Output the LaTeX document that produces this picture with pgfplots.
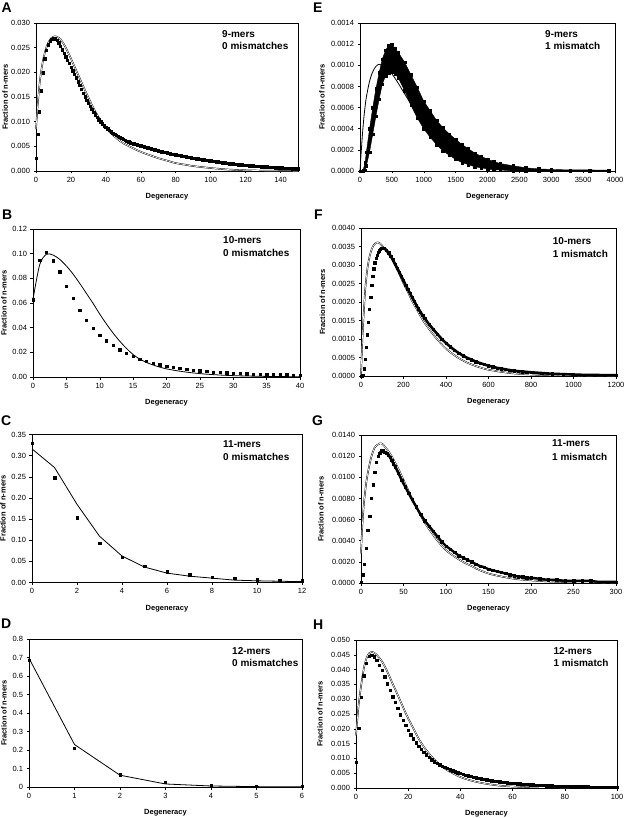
\documentclass[border=0pt]{standalone}
\usepackage{fontspec}
\setmainfont{Liberation Sans}
\usepackage{pgfplots}
\pgfplotsset{compat=1.18}
\usepackage{pgfplotstable}
\usepgfplotslibrary{fillbetween}

\pgfplotsset{
  panel/.style={
    scale only axis, anchor=south west, height=148pt,
    axis line style={line width=0.6pt},
    tick align=outside, tick pos=left, major tick length=2.5pt,
    tick style={black,line width=0.5pt},
    ticklabel style={font=\fontsize{7.5}{9}\selectfont},
    scaled ticks=false,
    /pgf/number format/assume math mode=true,
    /pgf/number format/1000 sep={},
    xlabel={Degeneracy}, ylabel={Fraction of n-mers},
    xlabel style={at={(axis description cs:0.5,0)}, anchor=north, yshift=-22.5pt, font=\bfseries\fontsize{7.5}{9}\selectfont, inner sep=0pt},
    ylabel style={anchor=center, font=\bfseries\fontsize{7.5}{9}\selectfont, inner sep=0pt},
    clip=false,
  },
  dots/.style={only marks, mark=square*, mark size=1.2pt, black},
  fitd/.style={black, line width=0.45pt, double=white, double distance=0.65pt, no marks},
  fits/.style={black, line width=0.8pt, no marks},
}

\pgfplotstableread{
x lo hi
0 0 0
50 0 0.00001
80 0.00001 0.00008
100 0.00005 0.00018
150 0.00018 0.00040
200 0.00035 0.00060
250 0.00052 0.00078
300 0.00068 0.00093
350 0.00082 0.00106
400 0.00090 0.00114
450 0.00093 0.00119
500 0.00094 0.00120
550 0.00092 0.00116
600 0.00088 0.00112
700 0.00076 0.00103
800 0.00062 0.00091
900 0.00050 0.00079
1000 0.00040 0.00066
1100 0.00032 0.00057
1200 0.00025 0.00048
1300 0.00019 0.00041
1400 0.00015 0.00035
1500 0.00011 0.00030
1600 0.00008 0.00025
1700 0.00006 0.00021
1800 0.00004 0.00017
1900 0.00003 0.00014
2000 0.00002 0.00011
2100 0.00001 0.00009
2200 0.00001 0.00007
2400 0 0.00005
2600 0 0.00003
2800 0 0.00002
3000 0 0.000015
3300 0 0.00001
3600 0 0.00001
3900 0 0.000008
}\Eband

\pgfplotstableread{
x y
0 0
5 0.00001
10 0.00003
15 0.00020
20 0.00045
25 0.00078
30 0.00112
35 0.00146
40 0.00180
45 0.00213
50 0.00245
55 0.00270
60 0.00290
65 0.00306
70 0.00318
75 0.00327
80 0.00334
85 0.00339
90 0.00343
95 0.00345
100 0.00346
110 0.00345
120 0.00340
130 0.00333
140 0.00324
150 0.00314
160 0.00303
170 0.00292
180 0.00281
190 0.00269
200 0.00258
210 0.00246
220 0.00235
230 0.00224
240 0.00213
250 0.00203
260 0.00192
270 0.00182
280 0.00173
290 0.00164
300 0.00156
320 0.00140
340 0.00126
360 0.00113
380 0.00100
400 0.00089
420 0.00079
440 0.00070
460 0.00062
480 0.00055
500 0.00049
520 0.00044
540 0.00039
560 0.00035
580 0.00031
600 0.00028
620 0.00025
640 0.00022
660 0.00020
680 0.00018
700 0.00016
720 0.00014
740 0.00013
760 0.00012
780 0.00011
800 0.00010
850 0.00008
900 0.00006
950 0.00005
1000 0.00004
1050 0.00003
1100 0.00003
1150 0.00002
1200 0.00002
}\Fdots

\pgfplotstableread{
x y
0 0.0001
2 0.0008
4 0.0018
6 0.0033
8 0.0050
10 0.0063
12 0.0080
14 0.0093
16 0.0105
18 0.0114
20 0.0120
22 0.0123
24 0.0125
26 0.0125
28 0.0124
30 0.0123
32 0.0121
34 0.0119
36 0.0116
38 0.0113
40 0.0110
44 0.0104
48 0.0097
52 0.0091
56 0.0085
60 0.0079
65 0.0072
70 0.0065
75 0.0059
80 0.0054
85 0.0049
90 0.0044
95 0.0039
100 0.0035
105 0.0032
110 0.0029
115 0.0026
120 0.0024
125 0.0022
130 0.0020
135 0.0018
140 0.0016
145 0.0015
150 0.0013
155 0.0012
160 0.0011
165 0.0010
170 0.0009
175 0.0008
180 0.0007
185 0.0006
190 0.0006
195 0.0005
200 0.0005
210 0.0004
220 0.0003
230 0.0003
240 0.0002
250 0.0002
260 0.0002
270 0.0002
280 0.0001
290 0.0001
300 0.0001
}\Gdots

\begin{document}
\begin{tikzpicture}

% ---------------- A ----------------
\begin{axis}[panel, ylabel style={at={(axis description cs:-0.118,0.5)}}, at={(36pt,-171pt)}, width=262pt,
  xmin=0, xmax=150, ymin=0, ymax=0.03,
  xtick={0,20,...,140},
  ytick={0,0.005,0.01,0.015,0.02,0.025,0.03},
  yticklabel style={/pgf/number format/.cd, fixed, fixed zerofill, precision=3}]
\addplot[dots] coordinates {(0,0.0026)(1,0.0074)(2,0.0120)(3,0.0163)(4,0.0199)(5,0.0228)(6,0.0245)(7,0.0256)(8,0.0263)(9,0.0267)(10,0.0269)(11,0.0268)(12,0.0265)(13,0.0260)(14,0.0253)(15,0.0246)(16,0.0239)(17,0.0232)(18,0.0225)(19,0.0218)(20,0.0211)(21,0.0203)(22,0.0196)(23,0.0189)(24,0.0181)(25,0.0174)(26,0.0166)(27,0.0158)(28,0.0151)(29,0.0144)(30,0.0137)(31,0.0131)(32,0.0125)(33,0.0119)(34,0.0114)(35,0.0109)(36,0.0104)(37,0.0100)(38,0.0096)(39,0.0092)(40,0.0089)(41,0.0086)(42,0.0083)(43,0.0080)(44,0.0077)(45,0.0074)(46,0.0072)(47,0.0070)(48,0.0068)(49,0.0066)(50,0.0064)(51,0.0062)(52,0.0060)(53,0.0059)(54,0.0057)(55,0.0056)(56,0.0055)(57,0.0054)(58,0.0053)(59,0.0052)(60,0.0051)(61,0.0050)(62,0.0049)(63,0.0048)(64,0.0047)(65,0.0046)(66,0.0045)(67,0.0044)(68,0.0043)(69,0.0042)(70,0.0041)(71,0.0040)(72,0.0039)(73,0.0038)(74,0.0038)(75,0.0037)(76,0.0036)(77,0.0035)(78,0.0034)(79,0.0034)(80,0.0033)(81,0.0032)(82,0.0032)(83,0.0031)(84,0.0030)(85,0.0030)(86,0.0029)(87,0.0028)(88,0.0028)(89,0.0027)(90,0.0026)(91,0.0026)(92,0.0025)(93,0.0025)(94,0.0024)(95,0.0023)(96,0.0023)(97,0.0022)(98,0.0022)(99,0.0021)(100,0.0021)(101,0.0020)(102,0.0020)(103,0.0019)(104,0.0019)(105,0.0018)(106,0.0018)(107,0.0017)(108,0.0017)(109,0.0016)(110,0.0016)(111,0.0015)(112,0.0015)(113,0.0015)(114,0.0014)(115,0.0014)(116,0.0013)(117,0.0013)(118,0.0013)(119,0.0012)(120,0.0012)(121,0.0012)(122,0.0011)(123,0.0011)(124,0.0011)(125,0.0010)(126,0.0010)(127,0.0010)(128,0.0010)(129,0.0009)(130,0.0009)(131,0.0009)(132,0.0009)(133,0.0008)(134,0.0008)(135,0.0008)(136,0.0008)(137,0.0007)(138,0.0007)(139,0.0007)(140,0.0007)(141,0.0007)(142,0.0006)(143,0.0006)(144,0.0006)(145,0.0006)(146,0.0006)(147,0.0005)(148,0.0005)(149,0.0005)(150,0.0005)};
\addplot[fitd, smooth] coordinates {(0,0.0085)(1,0.0135)(2,0.0175)(3,0.0203)(4,0.0224)(5,0.0239)(6,0.0251)(7,0.0260)(8,0.0266)(9,0.0270)(10,0.0272)(11,0.0273)(12,0.0272)(13,0.0270)(14,0.0267)(16,0.0257)(18,0.0243)(20,0.0228)(22,0.0212)(24,0.0196)(26,0.0180)(28,0.0164)(30,0.0149)(32,0.0134)(34,0.0120)(36,0.0108)(38,0.0097)(40,0.0088)(42,0.0080)(44,0.0073)(46,0.0067)(48,0.0061)(50,0.0056)(54,0.0049)(58,0.0042)(62,0.0036)(66,0.0031)(70,0.0026)(75,0.0021)(80,0.0016)(85,0.0013)(90,0.0010)(100,0.0006)(110,0.0003)(120,0.00015)(130,0.00007)(140,0.00003)(150,0.00001)};
\end{axis}

% ---------------- B ----------------
\begin{axis}[panel, ylabel style={at={(axis description cs:-0.1086,0.5)}}, at={(33pt,-377pt)}, width=267pt,
  xmin=0, xmax=40, ymin=0, ymax=0.12,
  xtick={0,5,...,40},
  ytick={0,0.02,0.04,0.06,0.08,0.1,0.12},
  yticklabel style={/pgf/number format/.cd, fixed, fixed zerofill, precision=2}]
\addplot[dots] coordinates {(0,0.0627)(1,0.0946)(2,0.1011)(3,0.0943)(4,0.0854)(5,0.0738)(6,0.0638)(7,0.0543)(8,0.0462)(9,0.0397)(10,0.0338)(11,0.0295)(12,0.0257)(13,0.0222)(14,0.0192)(15,0.0168)(16,0.0146)(17,0.0127)(18,0.0111)(19,0.0100)(20,0.0089)(21,0.0078)(22,0.0070)(23,0.0062)(24,0.0057)(25,0.0051)(26,0.0046)(27,0.0041)(28,0.0038)(29,0.0035)(30,0.0032)(31,0.0030)(32,0.0027)(33,0.0024)(34,0.0024)(35,0.0022)(36,0.0021)(37,0.0019)(38,0.0018)(39,0.0016)(40,0.0016)};
\addplot[fits, smooth] coordinates {(0,0.063)(1,0.091)(2,0.0995)(3,0.0989)(4,0.0954)(5,0.0900)(6,0.0835)(7,0.0759)(8,0.0678)(9,0.0597)(10,0.0510)(11,0.0430)(12,0.0356)(13,0.0290)(14,0.0232)(15,0.0182)(16,0.0145)(17,0.0118)(18,0.0097)(19,0.0080)(20,0.0066)(22,0.0047)(24,0.0033)(26,0.0023)(28,0.0016)(30,0.0011)(33,0.0007)(36,0.0004)(40,0.0002)};
\end{axis}

% ---------------- C ----------------
\begin{axis}[panel, ylabel style={at={(axis description cs:-0.1074,0.5)}}, at={(32pt,-582.5pt)}, width=270pt,
  xmin=0, xmax=12, ymin=0, ymax=0.35,
  xtick={0,2,...,12},
  ytick={0,0.05,0.1,0.15,0.2,0.25,0.3,0.35},
  yticklabel style={/pgf/number format/.cd, fixed, fixed zerofill, precision=2}]
\addplot[dots] coordinates {(0,0.329)(1,0.2476)(2,0.153)(3,0.0929)(4,0.0595)(5,0.0381)(6,0.0254)(7,0.0183)(8,0.0127)(9,0.0095)(10,0.0071)(11,0.0056)(12,0.0040)};
\addplot[fits] coordinates {(0,0.316)(1,0.272)(2,0.185)(3,0.1095)(4,0.0627)(5,0.0365)(6,0.0222)(7,0.0150)(8,0.0103)(9,0.0056)(10,0.0040)(11,0.0030)(12,0.0020)};
\end{axis}

% ---------------- D ----------------
\begin{axis}[panel, ylabel style={at={(axis description cs:-0.0916,0.5)}}, at={(29pt,-787pt)}, width=273pt,
  xmin=0, xmax=6, ymin=0, ymax=0.8,
  xtick={0,1,...,6},
  ytick={0,0.1,0.2,0.3,0.4,0.5,0.6,0.7,0.8},
  yticklabel style={/pgf/number format/.cd, fixed, precision=1}]
\addplot[dots] coordinates {(0,0.685)(1,0.211)(2,0.0656)(3,0.0255)(4,0.011)(5,0.0055)(6,0.0036)};
\addplot[fits] coordinates {(0,0.696)(1,0.2296)(2,0.0638)(3,0.0164)(4,0.0055)(5,0.002)(6,0.001)};
\end{axis}

% ---------------- E ----------------
\begin{axis}[panel, ylabel style={at={(axis description cs:-0.149,0.5)}}, at={(360pt,-171pt)}, width=255pt,
  xmin=0, xmax=4000, ymin=0, ymax=0.0014,
  xtick={0,500,...,4000},
  ytick={0,0.0002,0.0004,0.0006,0.0008,0.001,0.0012,0.0014},
  yticklabel style={/pgf/number format/.cd, fixed, fixed zerofill, precision=4}]
\addplot[name path=Eup, black, line width=0.4pt, mark=square*, mark size=1.2pt] table[x=x, y=hi] {\Eband};
\addplot[name path=Elo, black, line width=0.4pt, mark=square*, mark size=1.2pt] table[x=x, y=lo] {\Eband};
\addplot[black] fill between[of=Eup and Elo];
\addplot[fits, smooth] coordinates {(0,0)(10,0.0001)(20,0.00019)(40,0.00036)(60,0.0005)(80,0.00061)(100,0.0007)(150,0.00085)(200,0.00094)(250,0.00099)(300,0.00101)(350,0.00100)(400,0.00098)(450,0.00095)(500,0.00092)(600,0.00083)(700,0.00073)(800,0.00063)(900,0.00054)(1000,0.00046)(1100,0.00039)(1200,0.00032)(1300,0.00026)(1400,0.00021)(1500,0.00017)(1600,0.00013)(1700,0.0001)(1800,0.00008)(1900,0.00006)(2000,0.00005)(2200,0.00003)(2500,0.00001)(3000,0.000003)(3900,0)};
\end{axis}

% ---------------- F ----------------
\begin{axis}[panel, ylabel style={at={(axis description cs:-0.151,0.5)}}, at={(361pt,-376pt)}, width=255pt,
  xmin=0, xmax=1200, ymin=0, ymax=0.004,
  xtick={0,200,...,1200},
  ytick={0,0.0005,0.001,0.0015,0.002,0.0025,0.003,0.0035,0.004},
  yticklabel style={/pgf/number format/.cd, fixed, fixed zerofill, precision=4}]
\addplot[fitd, smooth] coordinates {(0,0)(5,0.0008)(10,0.0014)(15,0.0019)(20,0.00235)(30,0.0029)(40,0.00322)(50,0.00342)(60,0.00354)(70,0.0036)(80,0.00361)(90,0.00358)(100,0.00352)(120,0.00336)(140,0.00322)(160,0.0030)(180,0.00276)(200,0.0025)(220,0.00228)(240,0.00203)(260,0.00183)(280,0.00162)(300,0.00143)(350,0.00105)(400,0.00074)(450,0.00052)(500,0.00036)(550,0.00025)(600,0.00017)(700,0.00008)(800,0.00004)(900,0.00002)(1000,0.00001)(1200,0)};
\addplot[dots, mark size=1.15pt] table {\Fdots};
\addplot[black, line width=2.6pt, no marks, restrict x to domain=90:1200] table {\Fdots};
\end{axis}

% ---------------- G ----------------
\begin{axis}[panel, ylabel style={at={(axis description cs:-0.157,0.5)}}, at={(361pt,-583pt)}, width=255pt,
  xmin=0, xmax=300, ymin=0, ymax=0.014,
  xtick={0,50,...,300},
  ytick={0,0.002,0.004,0.006,0.008,0.01,0.012,0.014},
  yticklabel style={/pgf/number format/.cd, fixed, fixed zerofill, precision=4}]
\addplot[fitd, smooth] coordinates {(0,0.0028)(1,0.0046)(2,0.0060)(3,0.0071)(4,0.0080)(5,0.0087)(6,0.0094)(8,0.0104)(10,0.0112)(12,0.0119)(14,0.0124)(16,0.0128)(18,0.0130)(20,0.0131)(22,0.0132)(24,0.0132)(26,0.0131)(28,0.0129)(30,0.0127)(32,0.0125)(36,0.0120)(40,0.0114)(44,0.0108)(48,0.0101)(52,0.0094)(56,0.0087)(60,0.0080)(65,0.0072)(70,0.0064)(75,0.0057)(80,0.0051)(90,0.0040)(100,0.0031)(110,0.0025)(120,0.0020)(130,0.0016)(140,0.0012)(150,0.0009)(160,0.0007)(180,0.0004)(200,0.00025)(220,0.00015)(250,0.00006)(300,0.00002)};
\addplot[dots, mark size=1.2pt] table {\Gdots};
\addplot[black, line width=2.4pt, no marks, restrict x to domain=22:300] table {\Gdots};
\end{axis}

% ---------------- H ----------------
\begin{axis}[panel, ylabel style={at={(axis description cs:-0.138,0.5)}}, at={(356pt,-788pt)}, width=261pt,
  xmin=0, xmax=100, ymin=0, ymax=0.05,
  xtick={0,20,...,100},
  ytick={0,0.005,0.01,0.015,0.02,0.025,0.03,0.035,0.04,0.045,0.05},
  yticklabel style={/pgf/number format/.cd, fixed, fixed zerofill, precision=3}]
\addplot[fitd, smooth] coordinates {(0,0.0178)(1,0.0280)(2,0.0348)(3,0.0404)(4,0.0438)(5,0.0455)(6,0.0460)(7,0.0457)(8,0.0449)(9,0.0439)(10,0.0427)(11,0.0411)(12,0.0393)(13,0.0373)(14,0.0353)(15,0.0334)(16,0.0314)(17,0.0294)(18,0.0274)(19,0.0254)(20,0.0235)(22,0.0201)(24,0.0167)(26,0.0139)(28,0.0116)(30,0.0096)(32,0.0079)(35,0.0060)(40,0.0037)(45,0.0023)(50,0.0014)(55,0.0008)(60,0.0005)(70,0.0002)(80,0.0001)(100,0.0)};
\addplot[dots] coordinates {(0,0.0088)(1,0.0203)(2,0.0306)(3,0.0379)(4,0.0422)(5,0.0445)(6,0.0449)(7,0.0444)(8,0.0432)(9,0.0415)(10,0.0398)(11,0.0376)(12,0.0353)(13,0.0331)(14,0.0308)(15,0.0289)(16,0.0269)(17,0.0248)(18,0.0230)(19,0.0212)(20,0.0195)(21,0.0180)(22,0.0167)(23,0.0153)(24,0.0141)(25,0.0131)(26,0.0121)(27,0.0112)(28,0.0104)(29,0.0096)(30,0.0089)(31,0.0084)(32,0.0079)(33,0.0074)(34,0.0070)(35,0.0066)(36,0.0062)(37,0.0058)(38,0.0055)(39,0.0052)(40,0.0050)(41,0.0047)(42,0.0044)(43,0.0042)(44,0.0040)(45,0.0037)(46,0.0035)(47,0.0033)(48,0.0031)(49,0.0030)(50,0.0028)(51,0.0027)(52,0.0025)(53,0.0024)(54,0.0022)(55,0.0021)(56,0.0020)(57,0.0019)(58,0.0018)(59,0.0017)(60,0.0017)(61,0.0016)(62,0.0015)(63,0.0014)(64,0.0013)(65,0.0012)(66,0.0012)(67,0.0011)(68,0.0011)(69,0.0010)(70,0.0010)(71,0.0009)(72,0.0009)(73,0.0008)(74,0.0008)(75,0.0008)(76,0.0007)(77,0.0007)(78,0.0007)(79,0.0006)(80,0.0006)(81,0.0006)(82,0.0005)(83,0.0005)(84,0.0005)(85,0.0005)(86,0.0004)(87,0.0004)(88,0.0004)(89,0.0004)(90,0.0003)(91,0.0003)(92,0.0003)(93,0.0003)(94,0.0003)(95,0.0002)(96,0.0002)(97,0.0002)(98,0.0002)(99,0.0002)(100,0.0002)};
\end{axis}

% ---------------- panel letters and annotations ----------------
\tikzset{plet/.style={anchor=base west, font=\bfseries\fontsize{14}{14}\selectfont, inner sep=0pt},
         ann/.style={anchor=base west, font=\bfseries\fontsize{10}{12}\selectfont, inner sep=0pt}}
\node[plet] at (1.5pt,-12.7pt) {A};
\node[plet] at (313pt,-13pt) {E};
\node[plet] at (2pt,-220pt) {B};
\node[plet] at (314pt,-220pt) {F};
\node[plet] at (1pt,-425pt) {C};
\node[plet] at (312pt,-425pt) {G};
\node[plet] at (1pt,-628pt) {D};
\node[plet] at (313pt,-629pt) {H};

\node[ann] at (222pt,-37.3pt) {9-mers};
\node[ann] at (222pt,-50pt) {0 mismatches};
\node[ann] at (545pt,-37.3pt) {9-mers};
\node[ann] at (545pt,-50pt) {1 mismatch};
\node[ann] at (223pt,-243.3pt) {10-mers};
\node[ann] at (223pt,-256pt) {0 mismatches};
\node[ann] at (552.7pt,-244pt) {10-mers};
\node[ann] at (552.7pt,-257pt) {1 mismatch};
\node[ann] at (223pt,-447.3pt) {11-mers};
\node[ann] at (223pt,-460.7pt) {0 mismatches};
\node[ann] at (552pt,-446.7pt) {11-mers};
\node[ann] at (552pt,-460pt) {1 mismatch};
\node[ann] at (232pt,-654pt) {12-mers};
\node[ann] at (232pt,-666.7pt) {0 mismatches};
\node[ann] at (553.3pt,-654pt) {12-mers};
\node[ann] at (553.3pt,-666.7pt) {1 mismatch};

\pgfresetboundingbox
\useasboundingbox (0,0) rectangle (624pt,-818pt);
\end{tikzpicture}
\end{document}
